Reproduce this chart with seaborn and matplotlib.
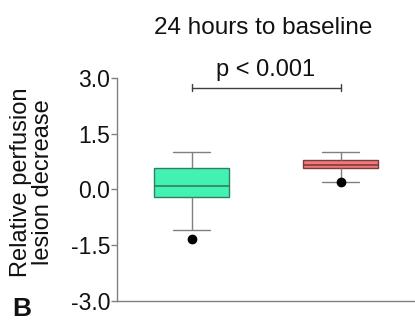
import numpy as np
import pandas as pd
import matplotlib
matplotlib.use("Agg")
import matplotlib.pyplot as plt
import seaborn as sns

# values (20 per group, chosen to give the drawn quartiles,
# 5-95 percentile whiskers and the single low outlier)
groups = ["24 hours", "baseline"]
vals_24h = [-1.32, -1.10, -0.80, -0.50, -0.21, -0.21, -0.10, 0.00, 0.05, 0.10,
            0.10, 0.25, 0.40, 0.50, 0.59, 0.59, 0.75, 0.90, 1.00, 1.00]
vals_base = [0.19, 0.21, 0.40, 0.52, 0.59, 0.59, 0.62, 0.64, 0.66, 0.67,
             0.67, 0.70, 0.73, 0.76, 0.78, 0.78, 0.85, 0.92, 1.00, 1.00]
fills = ["#43F2B1", "#F2787A"]
edges = ["#2F7F63", "#7A3C3C"]
yticks = [-3.0, -1.5, 0.0, 1.5, 3.0]
p_label = "p < 0.001"

df = pd.DataFrame({
    "group": [groups[0]] * len(vals_24h) + [groups[1]] * len(vals_base),
    "value": vals_24h + vals_base,
})

sns.set_style("white")
plt.rcParams['font.family'] = ['Liberation Sans', 'DejaVu Sans']
plt.rcParams['axes.unicode_minus'] = False

fig = plt.figure(figsize=(4.15, 3.22), dpi=100)
ax = fig.add_axes([0.282, 0.065, 0.718, 0.693])

for g, fc, ec in zip(groups, fills, edges):
    sns.boxplot(data=df[df["group"] == g], x="group", y="value", order=groups,
                color=fc, linecolor=ec, width=0.5, whis=(5, 95), linewidth=1.0,
                saturation=1, ax=ax,
                whiskerprops=dict(color="#808080", linewidth=1.0),
                capprops=dict(color="#808080", linewidth=1.0),
                medianprops=dict(color=ec, linewidth=1.2),
                flierprops=dict(marker="o", markerfacecolor="black",
                                markeredgecolor="black", markersize=6))

ax.set_xlim(-0.5, 1.5)
ax.set_ylim(-3.0, 3.0)
ax.set_yticks(yticks)
ax.set_yticklabels([f"{t:.1f}" for t in yticks])
ax.set_xticks([])
ax.set_xlabel("")
ax.set_ylabel("")
sns.despine(ax=ax)
for s in ["left", "bottom"]:
    ax.spines[s].set_color("#808080")
    ax.spines[s].set_linewidth(1.0)
ax.tick_params(axis="y", which="both", left=True, length=4, width=1.0,
               color="#808080", labelsize=16.5, pad=1, labelcolor="#111111")

# significance bracket
yb = 2.74
ax.plot([0, 1], [yb, yb], color="#404040", lw=1.0, clip_on=False)
for xe in [0, 1]:
    ax.plot([xe, xe], [yb - 0.09, yb + 0.09], color="#404040", lw=1.0, clip_on=False)
ax.text(0.5, 3.04, p_label, ha="center", va="baseline", fontsize=17, color="#111111",
        clip_on=False)

fig.text(263 / 415, 1 - 34 / 322, "24 hours to baseline", ha="center", va="baseline",
         fontsize=17.5, color="#111111")
fig.text(32 / 415, 0.435, "Relative perfusion\nlesion decrease", rotation=90,
         ha="center", va="center", multialignment="center", fontsize=17,
         linespacing=0.95, color="#111111")
fig.text(12 / 415, 1 - 316 / 322, "B", fontsize=19, fontweight="bold", color="#111111",
         va="baseline")

fig.savefig("out.png", dpi=100)
